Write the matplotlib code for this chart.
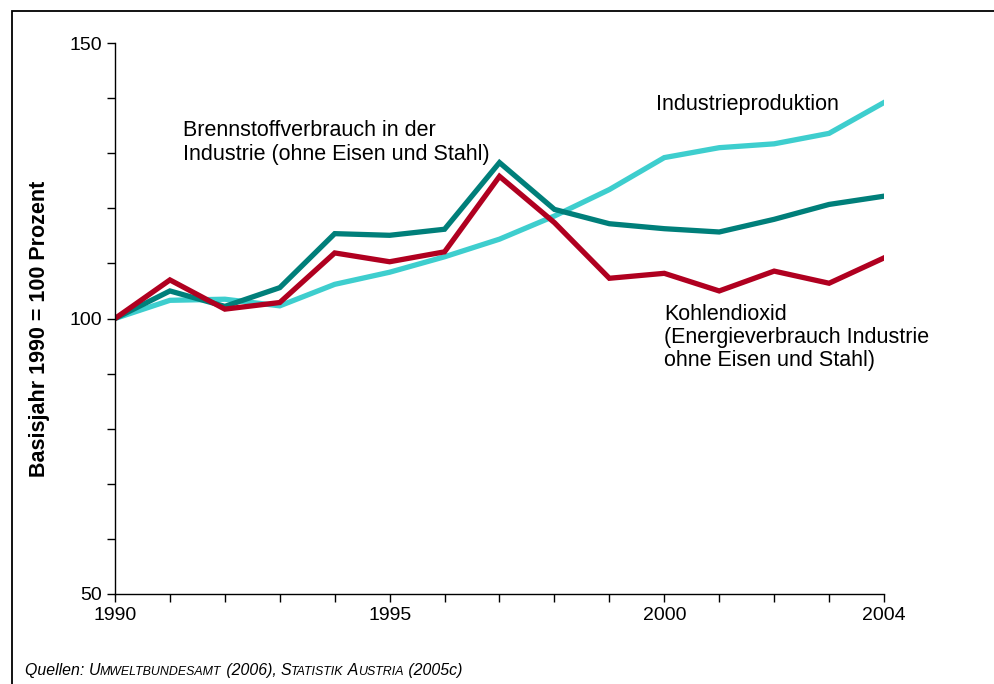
import matplotlib
matplotlib.use("Agg")
from matplotlib import pyplot as plt
from matplotlib.patches import Rectangle

plt.rcParams['font.family'] = ['Liberation Sans', 'DejaVu Sans']

years = list(range(1990, 2005))
brennstoff = [100, 105.0, 102.2, 105.6, 115.4, 115.1, 116.2, 128.3, 119.8, 117.2, 116.3, 115.7, 118.0, 120.7, 122.2]
kohlendioxid = [100, 107.0, 101.7, 102.9, 111.9, 110.3, 112.1, 125.8, 117.4, 107.3, 108.2, 105.0, 108.6, 106.4, 111.0]
produktion = [100, 103.3, 103.5, 102.3, 106.2, 108.4, 111.2, 114.4, 118.6, 123.4, 129.2, 131.0, 131.7, 133.6, 139.2]

x_labels = {1990: "1990", 1995: "1995", 2000: "2000", 2004: "2004"}
y_labels = {50: "50", 100: "100", 150: "150"}

W, H = 994, 684
fig = plt.figure(figsize=(W / 100, H / 100), dpi=100)
ax = fig.add_axes([115 / W, 1 - 594 / H, (884 - 115) / W, (594 - 43) / H])

# outer frame (only left/top edges are visible in the crop)
fig.patches.append(Rectangle((12 / W, -0.1), 1.2, 1 - 11 / H + 0.1, transform=fig.transFigure,
                             fill=False, edgecolor="black", linewidth=1.3))

ax.plot(years, produktion, color="#3ECECE", linewidth=3.8, solid_joinstyle="miter")
ax.plot(years, brennstoff, color="#007F7A", linewidth=3.8, solid_joinstyle="miter")
ax.plot(years, kohlendioxid, color="#B00020", linewidth=3.8, solid_joinstyle="miter")

ax.set_xlim(1990, 2004)
ax.set_ylim(50, 150)
ax.spines["top"].set_visible(False)
ax.spines["right"].set_visible(False)
for s in ("left", "bottom"):
    ax.spines[s].set_linewidth(1.0)

ax.set_xticks(years)
ax.set_xticklabels([x_labels.get(y, "") for y in years])
yt = list(range(50, 151, 10))
ax.set_yticks(yt)
ax.set_yticklabels([y_labels.get(v, "") for v in yt])
ax.tick_params(axis="both", direction="out", length=5.5, width=1.0, labelsize=14, pad=4)

# y axis title, placed directly in figure pixels
fig.text(40 / W, 1 - 329 / H, "Basisjahr 1990 = 100 Prozent", fontsize=15.5, fontweight="bold",
         rotation=90, ha="center", va="center")

ax.text(1991.24, 136.0, "Brennstoffverbrauch in der\nIndustrie (ohne Eisen und Stahl)",
        fontsize=15.5, va="top", ha="left", linespacing=1.15)
ax.text(1999.85, 140.7, "Industrieproduktion", fontsize=15.5, va="top", ha="left")
ax.text(2000.0, 102.7, "Kohlendioxid\n(Energieverbrauch Industrie\nohne Eisen und Stahl)",
        fontsize=15.5, va="top", ha="left", linespacing=1.15)

# source line with small caps imitation
pieces = [("Quellen: ", 11.4), ("U", 11.4), ("MWELTBUNDESAMT", 8.9), (" (2006), ", 11.4),
          ("S", 11.4), ("TATISTIK", 8.9), (" A", 11.4), ("USTRIA", 8.9), (" (2005c)", 11.4)]
renderer = fig.canvas.get_renderer()
xpos = 25
for txt, size in pieces:
    t = fig.text(xpos / W, 1 - 675 / H, txt, fontsize=size, style="italic", ha="left", va="baseline")
    bb = t.get_window_extent(renderer=renderer)
    xpos = bb.x1

fig.savefig("out.png", dpi=100)
